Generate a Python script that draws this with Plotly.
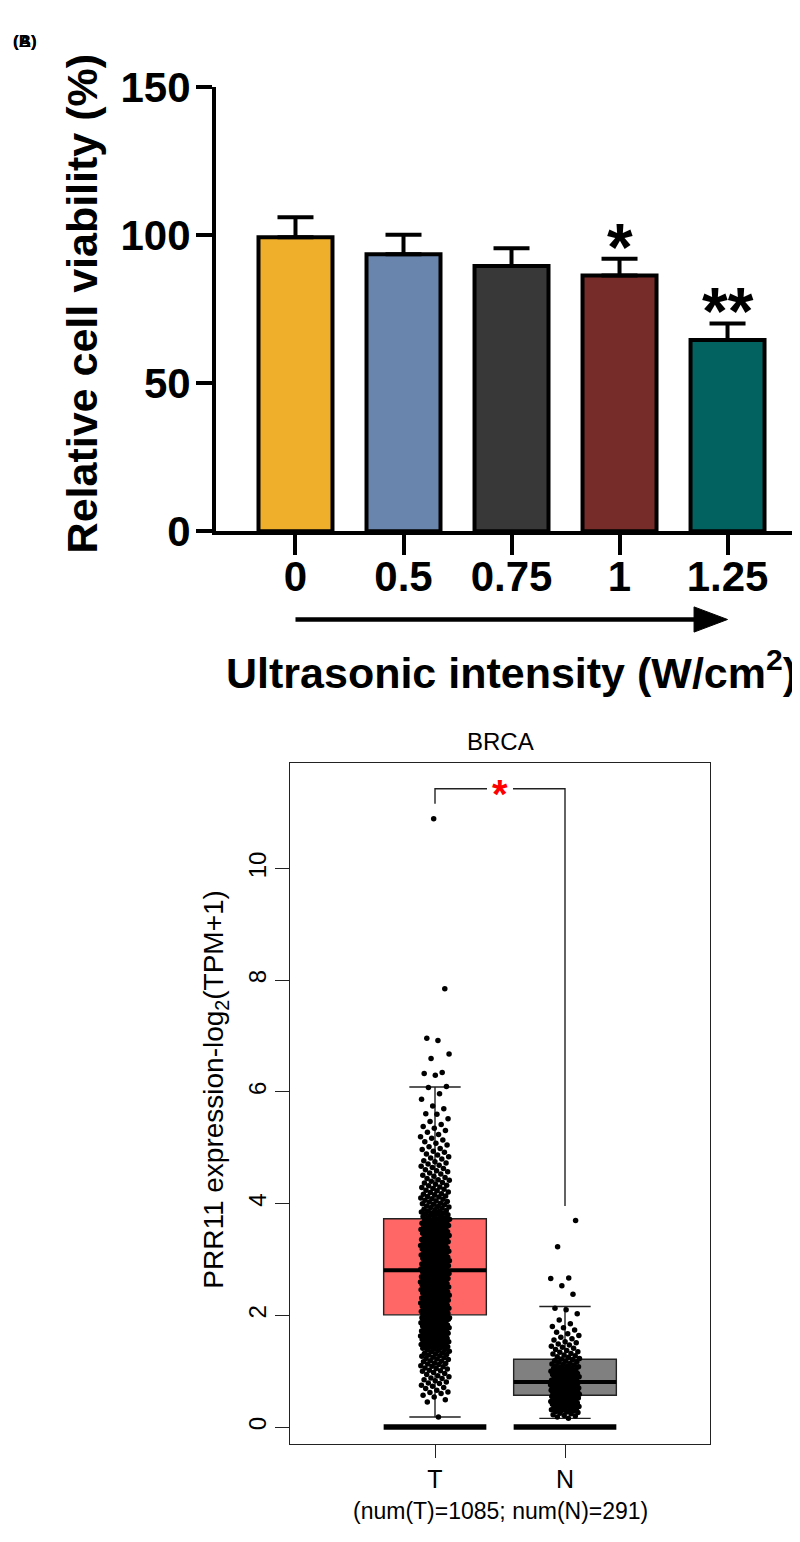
import plotly.graph_objects as go

W, H = 800, 1542

# ---------------- Panel A data ----------------
intensity = ["0", "0.5", "0.75", "1", "1.25"]
viability = [99.3, 93.6, 89.6, 86.4, 64.6]
viability_sd = [6.8, 6.6, 6.0, 5.7, 5.6]
bar_colors = ["#F0AF2B", "#6985AD", "#383838", "#762D2A", "#02625F"]
significance = ["", "", "", "*", "**"]
a_yticks = [0, 50, 100, 150]

# ---------------- Panel B data ----------------
groups = ["T", "N"]
group_counts = [1085, 291]
box_q1 = [2.01, 0.57]
box_median = [2.81, 0.81]
box_q3 = [3.73, 1.215]
box_lower = [0.18, 0.156]
box_upper = [6.09, 2.16]
box_colors = ["#FF6666", "#808080"]
b_yticks = [0, 2, 4, 6, 8, 10]

T_values = [
    0.18, 0.45, 0.49, 0.54, 0.57, 0.60, 0.62, 0.63, 0.66, 0.69,
    0.71, 0.73, 0.75, 0.78, 0.79, 0.81, 0.83, 0.85, 0.87, 0.88,
    0.90, 0.92, 0.94, 0.96, 0.98,
    1.00, 1.01, 1.02, 1.04, 1.05, 1.06, 1.08, 1.09, 1.10, 1.12,
    1.13, 1.14, 1.15, 1.17, 1.18, 1.19, 1.21, 1.22, 1.23, 1.24,
    1.25, 1.27, 1.28, 1.29, 1.30, 1.31, 1.32, 1.33, 1.35, 1.36,
    1.37, 1.38, 1.39, 1.40, 1.41, 1.42, 1.43, 1.44, 1.45, 1.46,
    1.46, 1.47, 1.48, 1.49, 1.49,
    1.50, 1.50, 1.51, 1.52, 1.52, 1.53, 1.54, 1.55, 1.55, 1.56,
    1.57, 1.57, 1.58, 1.59, 1.60, 1.60, 1.61, 1.62, 1.63, 1.63,
    1.64, 1.65, 1.65, 1.66, 1.67, 1.68, 1.68, 1.69, 1.70, 1.71,
    1.71, 1.72, 1.73, 1.73, 1.74, 1.75, 1.76, 1.76, 1.77, 1.78,
    1.78, 1.79, 1.80, 1.81, 1.81, 1.82, 1.83, 1.83, 1.84, 1.85,
    1.86, 1.86, 1.87, 1.88, 1.88, 1.89, 1.90, 1.91, 1.91, 1.92,
    1.93, 1.93, 1.94, 1.95, 1.95, 1.96, 1.97, 1.97, 1.98, 1.99,
    1.99, 1.99, 1.98, 1.96, 1.94,
    2.00, 2.00, 2.01, 2.02, 2.02, 2.03, 2.04, 2.04, 2.05, 2.06,
    2.06, 2.07, 2.08, 2.08, 2.09, 2.10, 2.11, 2.11, 2.12, 2.13,
    2.13, 2.14, 2.15, 2.15, 2.16, 2.17, 2.18, 2.18, 2.19, 2.20,
    2.20, 2.21, 2.22, 2.22, 2.23, 2.24, 2.25, 2.25, 2.26, 2.27,
    2.27, 2.28, 2.29, 2.29, 2.30, 2.31, 2.32, 2.32, 2.33, 2.34,
    2.34, 2.35, 2.36, 2.36, 2.37, 2.38, 2.39, 2.39, 2.40, 2.41,
    2.41, 2.42, 2.43, 2.43, 2.44, 2.45, 2.46, 2.46, 2.47, 2.48,
    2.48, 2.49, 2.50, 2.50, 2.51, 2.52, 2.53, 2.53, 2.54, 2.55,
    2.55, 2.56, 2.57, 2.57, 2.58, 2.59, 2.60, 2.60, 2.61, 2.62,
    2.62, 2.63, 2.64, 2.64, 2.65, 2.66, 2.67, 2.67, 2.68, 2.69,
    2.69, 2.70, 2.71, 2.71, 2.72, 2.73, 2.74, 2.74, 2.75, 2.76,
    2.76, 2.77, 2.78, 2.78, 2.79, 2.79, 2.80, 2.80,
    2.81, 2.81, 2.82, 2.83, 2.83, 2.84, 2.85, 2.86, 2.86, 2.87,
    2.88, 2.89, 2.89, 2.90, 2.91, 2.92, 2.92, 2.93, 2.94, 2.95,
    2.95, 2.96, 2.97, 2.98, 2.98, 2.99, 3.00, 3.01, 3.01, 3.02,
    3.03, 3.04, 3.04, 3.05, 3.06, 3.07, 3.08, 3.08, 3.09, 3.10,
    3.11, 3.11, 3.12, 3.13, 3.14, 3.15, 3.15, 3.16, 3.17, 3.18,
    3.19, 3.19, 3.20, 3.21, 3.22, 3.23, 3.23, 3.24, 3.25, 3.26,
    3.27, 3.28, 3.28, 3.29, 3.30, 3.31, 3.32, 3.33, 3.33, 3.34,
    3.35, 3.36, 3.37, 3.38, 3.38, 3.39, 3.40, 3.41, 3.42, 3.43,
    3.44, 3.44, 3.45, 3.46, 3.47, 3.48, 3.49, 3.50, 3.50, 3.51,
    3.52, 3.53, 3.54, 3.55, 3.56, 3.57, 3.57, 3.58, 3.59, 3.60,
    3.61, 3.62, 3.63, 3.64, 3.64, 3.65, 3.66, 3.67, 3.68, 3.69,
    3.70, 3.71, 3.71,
    3.72, 3.73, 3.74, 3.75, 3.76, 3.77, 3.78, 3.79, 3.80, 3.81,
    3.82, 3.83, 3.84, 3.85, 3.86, 3.87, 3.88, 3.89, 3.90, 3.92,
    3.93, 3.94, 3.95, 3.96, 3.98, 3.99, 4.00, 4.01, 4.03, 4.04,
    4.05, 4.06, 4.08, 4.09, 4.10, 4.12, 4.13, 4.14, 4.16, 4.17,
    4.18, 4.20, 4.21, 4.23, 4.24, 4.26, 4.27, 4.29, 4.30, 4.32,
    4.33, 4.35, 4.37, 4.38, 4.40, 4.42, 4.43, 4.45, 4.47, 4.49,
    4.51, 4.53, 4.55, 4.57, 4.59, 4.61, 4.63, 4.65, 4.67, 4.69,
    4.71, 4.73, 4.75, 4.77, 4.80, 4.82, 4.84, 4.87, 4.89, 4.92,
    4.94, 4.97, 4.99,
    5.02, 5.05, 5.08, 5.11, 5.14, 5.17, 5.20, 5.24, 5.28, 5.31,
    5.35, 5.38, 5.42, 5.47, 5.52, 5.60, 5.61, 5.70, 5.75, 5.87,
    5.97, 6.08, 6.10, 6.30, 6.33, 6.35, 6.60, 6.68, 6.92, 6.96,
    7.85, 10.89,
]

N_values = [
    0.16, 0.18, 0.20, 0.21, 0.22, 0.24, 0.25, 0.26, 0.27, 0.28,
    0.29, 0.30, 0.31, 0.31, 0.32, 0.33, 0.34, 0.35, 0.35, 0.36,
    0.37, 0.38, 0.38, 0.39, 0.40, 0.41, 0.41, 0.42, 0.43, 0.44,
    0.44, 0.45, 0.46, 0.46, 0.47, 0.48, 0.48, 0.49, 0.50, 0.50,
    0.51, 0.52, 0.52, 0.53, 0.54, 0.54, 0.55, 0.56, 0.56, 0.57,
    0.57, 0.58, 0.58, 0.59, 0.59, 0.60, 0.60, 0.61, 0.61, 0.62,
    0.62, 0.63, 0.63, 0.64, 0.64, 0.65, 0.65, 0.66, 0.66, 0.67,
    0.67, 0.68, 0.68, 0.69, 0.69, 0.70, 0.70, 0.71, 0.71, 0.72,
    0.72, 0.73, 0.73, 0.74, 0.74, 0.75, 0.75, 0.76, 0.76, 0.77,
    0.77, 0.78, 0.78, 0.79, 0.79, 0.80, 0.80, 0.81, 0.81,
    0.82, 0.83, 0.84, 0.84, 0.85, 0.86, 0.87, 0.88, 0.88, 0.89,
    0.90, 0.91, 0.92, 0.92, 0.93, 0.94, 0.95, 0.96, 0.96, 0.97,
    0.98, 0.99, 1.00, 1.00, 1.01, 1.02, 1.03, 1.04, 1.05, 1.06,
    1.07, 1.08, 1.09, 1.10, 1.11, 1.12, 1.13, 1.14, 1.16, 1.17,
    1.18, 1.19, 1.21,
    1.22, 1.23, 1.25, 1.26, 1.28, 1.29, 1.31, 1.32, 1.34, 1.35,
    1.37, 1.39, 1.41, 1.43, 1.45, 1.47, 1.49, 1.51, 1.53, 1.56,
    1.58, 1.61, 1.64, 1.67, 1.70, 1.74, 1.78, 1.80, 1.85, 1.92,
    2.03, 2.10, 2.13, 2.38, 2.53, 2.66, 2.67, 3.23, 3.70,
]

# significance bracket between T and N
sig_bracket_top = 11.43
sig_left_drop = 11.16
sig_right_drop = 3.96
sig_label = "*"


def px(x):
    return x / W


def py(y):
    return 1 - y / H


FONT = "Arial, Liberation Sans, Helvetica, sans-serif"
fig = go.Figure()

# ---------- Panel A: bars ----------
xa = list(range(len(intensity)))
fig.add_trace(go.Bar(
    x=xa, y=viability, width=0.685,
    marker=dict(color=bar_colors, line=dict(color="black", width=4)),
    error_y=dict(type="data", array=viability_sd, arrayminus=[0] * len(viability_sd),
                 symmetric=False, color="black", thickness=4, width=18),
    xaxis="x", yaxis="y", showlegend=False,
))

for i, s in enumerate(significance):
    if s:
        fig.add_annotation(x=xa[i], y=viability[i] + viability_sd[i], xref="x", yref="y",
                           text=s, showarrow=False, yanchor="middle", yshift=12,
                           font=dict(family=FONT, size=66, color="black", weight="bold"))

# arrow under the category labels
fig.add_shape(type="line", xref="x", yref="paper", x0=xa[0], x1=xa[-1] - 0.25,
              y0=py(607), y1=py(607), line=dict(color="black", width=4.5))
fig.add_shape(type="path", xref="x", yref="paper",
              path=f"M {xa[-1]-0.31} {py(594)} L {xa[-1]} {py(607)} L {xa[-1]-0.31} {py(620)} Z",
              fillcolor="black", line=dict(color="black", width=1))

# ---------- Panel B: boxes ----------
xb = [1, 2]
box_w = 0.79
for i, g in enumerate(groups):
    fig.add_trace(go.Box(
        x=[xb[i]], q1=[box_q1[i]], median=[box_median[i]], q3=[box_q3[i]],
        lowerfence=[box_lower[i]], upperfence=[box_upper[i]],
        width=box_w, whiskerwidth=0.5, fillcolor=box_colors[i],
        line=dict(color="#222222", width=1.4), boxpoints=False,
        xaxis="x2", yaxis="y2", showlegend=False, hoverinfo="skip",
    ))
    # thick median
    fig.add_trace(go.Scatter(
        x=[xb[i] - box_w / 2, xb[i] + box_w / 2], y=[box_median[i]] * 2, mode="lines",
        line=dict(color="black", width=4), xaxis="x2", yaxis="y2", showlegend=False,
    ))
    # thick baseline at zero
    fig.add_trace(go.Scatter(
        x=[xb[i] - box_w / 2, xb[i] + box_w / 2], y=[0, 0], mode="lines",
        line=dict(color="black", width=5.5), xaxis="x2", yaxis="y2", showlegend=False,
    ))

# jittered points (deterministic low-discrepancy spread)
GOLD = 0.6180339887
for i, vals in enumerate([T_values, N_values]):
    xs = [xb[i] + 0.112 * (2 * (((k + 1) * GOLD) % 1.0) - 1) for k in range(len(vals))]
    fig.add_trace(go.Scatter(
        x=xs, y=vals, mode="markers",
        marker=dict(color="black", size=5.5, line=dict(width=0)),
        xaxis="x2", yaxis="y2", showlegend=False,
    ))

# significance bracket
fig.add_trace(go.Scatter(
    x=[xb[0], xb[0], 1.40, None, 1.60, xb[1], xb[1]],
    y=[sig_left_drop, sig_bracket_top, sig_bracket_top, None, sig_bracket_top, sig_bracket_top, sig_right_drop],
    mode="lines", line=dict(color="#222222", width=1.4),
    xaxis="x2", yaxis="y2", showlegend=False,
))
fig.add_annotation(x=1.5, y=sig_bracket_top, xref="x2", yref="y2", text=sig_label,
                   showarrow=False, yanchor="middle", yshift=-5,
                   font=dict(family=FONT, size=40, color="#FF0000", weight="bold"))

# ---------- Layout ----------
fig.update_layout(
    width=W, height=H, margin=dict(l=0, r=0, t=0, b=0),
    paper_bgcolor="white", plot_bgcolor="rgba(0,0,0,0)",
    boxmode="overlay",
    xaxis=dict(domain=[px(208), 1.0], range=[-0.736, 4.745], anchor="y",
               tickvals=xa, ticktext=intensity, ticks="outside", ticklen=20, tickwidth=4,
               tickcolor="black", showline=True, linecolor="black", linewidth=4,
               showgrid=False, zeroline=False, ticklabelstandoff=-15,
               tickfont=dict(family=FONT, size=42, color="black", weight="bold")),
    yaxis=dict(domain=[py(516), py(58)], range=[0, 150], anchor="x",
               tickvals=a_yticks, ticks="outside", ticklen=16, tickwidth=4,
               tickcolor="black", showline=True, linecolor="black", linewidth=4,
               showgrid=False, zeroline=False, ticklabelstandoff=-3,
               tickfont=dict(family=FONT, size=42, color="black", weight="bold")),
    xaxis2=dict(domain=[px(282), px(702)], range=[-0.1154, 3.1154], anchor="y2",
                tickvals=xb, ticktext=groups, ticks="outside", ticklen=13, tickwidth=1.4,
                tickcolor="#222222", showline=True, mirror=True, linecolor="#222222",
                linewidth=1.4, showgrid=False, zeroline=False, ticklabelstandoff=0,
                tickfont=dict(family=FONT, size=25, color="black")),
    yaxis2=dict(domain=[py(1457.7), py(755)], range=[-0.307, 11.89], anchor="x2",
                tickvals=b_yticks, tickangle=-90, ticks="outside", ticklen=14, tickwidth=1.4,
                tickcolor="#222222", showline=True, mirror=True, linecolor="#222222",
                linewidth=1.4, showgrid=False, zeroline=False, ticklabelstandoff=-1,
                tickfont=dict(family=FONT, size=24, color="black")),
)

ann = dict(showarrow=False, xref="paper", yref="paper", xanchor="center", yanchor="middle")
fig.add_annotation(x=px(74), y=py(282), text="Relative cell viability (%)", textangle=-90,
                   font=dict(family=FONT, size=43, color="black", weight="bold"), **ann)
fig.add_annotation(x=px(503), y=py(659), text="Ultrasonic intensity (W/cm<sup>2</sup>)",
                   font=dict(family=FONT, size=43, color="black", weight="bold"), **ann)
fig.add_annotation(x=px(17), y=py(11), text="(A)",
                   font=dict(family=FONT, size=17, color="black", weight="bold"), **ann)
fig.add_annotation(x=px(17), y=py(11), text="(B)",
                   font=dict(family=FONT, size=17, color="black", weight="bold"), **ann)
fig.add_annotation(x=px(492), y=py(733), text="BRCA",
                   font=dict(family=FONT, size=24, color="black"), **ann)
fig.add_annotation(x=px(208), y=py(1092), text="PRR11 expression-log<sub>2</sub>(TPM+1)",
                   textangle=-90, font=dict(family=FONT, size=28, color="black"), **ann)
fig.add_annotation(x=px(492), y=py(1527),
                   text=f"(num(T)={group_counts[0]}; num(N)={group_counts[1]})",
                   font=dict(family=FONT, size=23, color="black"), **ann)

fig.write_html("out.html")
